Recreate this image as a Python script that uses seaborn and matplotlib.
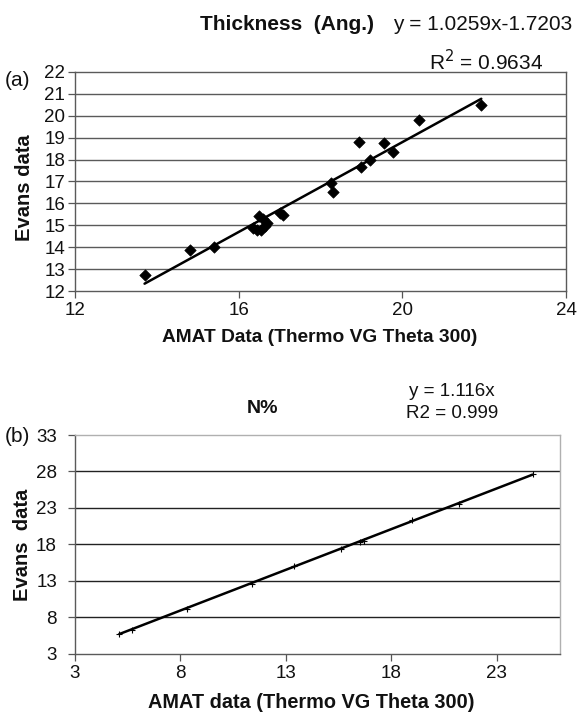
import matplotlib
matplotlib.use("Agg")
import matplotlib.pyplot as plt
import seaborn as sns
import numpy as np
import pandas as pd

# ---- data ----
thick_amat = [13.7, 14.8, 15.4, 16.35, 16.45, 16.5, 16.55, 16.6, 16.65, 16.7,
              17.0, 17.08, 18.26, 18.3, 18.95, 18.98, 19.22, 19.56, 19.76, 20.41, 21.93]
thick_evans = [12.75, 13.87, 14.02, 14.86, 14.8, 15.42, 14.79, 15.3, 14.95, 15.1,
               15.55, 15.45, 16.95, 16.5, 18.8, 17.68, 17.98, 18.74, 18.33, 19.8, 20.49]
thick_fit = [1.0259, -1.7203]   # slope, intercept

n_amat = [5.1, 5.7, 8.3, 11.4, 13.4, 15.6, 16.5, 16.7, 19.0, 21.2, 24.7]
n_evans = [5.7, 6.3, 9.2, 12.6, 15.0, 17.4, 18.3, 18.5, 21.3, 23.6, 27.6]
n_fit = [1.116, 0.0]

thick_xticks = [12, 16, 20, 24]
thick_yticks = list(range(12, 23))
n_xticks = [3, 8, 13, 18, 23]
n_yticks = [3, 8, 13, 18, 23, 28, 33]

sns.set_theme(style="white")
plt.rcParams['font.family'] = ['Liberation Sans', 'DejaVu Sans']

fig = plt.figure(figsize=(5.79, 7.22), dpi=100)
TXT = '#111111'

def style_axes(ax, xticks, yticks, xlim, ylim, grid_color, ypad):
    ax.set_xlim(*xlim)
    ax.set_ylim(*ylim)
    ax.set_xticks(xticks)
    ax.set_yticks(yticks)
    ax.grid(False)
    for y in yticks[1:-1]:
        ax.axhline(y, color=grid_color, lw=1.0, zorder=0)
    ax.tick_params(axis='both', direction='out', length=5, width=0.9,
                   color='#555555', labelsize=13.5, labelcolor=TXT,
                   bottom=True, left=True)
    ax.tick_params(axis='x', pad=3)
    ax.tick_params(axis='y', pad=ypad)
    ax.set_xlabel('')
    ax.set_ylabel('')

# ---- panel (a) ----
ax1 = fig.add_axes([75/579, 1-291/722, (566-75)/579, (291-72)/722])
df1 = pd.DataFrame({'amat': thick_amat, 'evans': thick_evans})
xs1 = np.array([min(thick_amat), max(thick_amat)])
line1 = pd.DataFrame({'x': xs1, 'y': thick_fit[0]*xs1 + thick_fit[1]})
sns.lineplot(data=line1, x='x', y='y', ax=ax1, color='black', lw=1.8, zorder=3)
sns.scatterplot(data=df1, x='amat', y='evans', ax=ax1, marker='D', s=34,
                color='black', edgecolor='black', zorder=4)
style_axes(ax1, thick_xticks, thick_yticks, (12, 24), (12, 22), '#5a5a5a', 2)
for s in ax1.spines.values():
    s.set_color('#5a5a5a'); s.set_linewidth(1.0)

fig.text(287/579, 1-25/722, 'Thickness  (Ang.)', ha='center', va='center',
         fontsize=15, fontweight='bold', color=TXT)
fig.text(483/579, 1-25/722, 'y = 1.0259x-1.7203', ha='center', va='center',
         fontsize=15, color=TXT)
fig.text(486/579, 1-62/722, 'R$^2$ = 0.9634', ha='center', va='center',
         fontsize=15, color=TXT)
fig.text(5/579, 1-80/722, '(a)', ha='left', va='center', fontsize=15, color=TXT)
fig.text(25/579, 1-188/722, 'Evans data', ha='center', va='center', rotation=90,
         fontsize=14.5, fontweight='bold', color=TXT)
fig.text(320/579, 1-337/722, 'AMAT Data (Thermo VG Theta 300)', ha='center', va='center',
         fontsize=13.8, fontweight='bold', color=TXT)

# ---- panel (b) ----
ax2 = fig.add_axes([75/579, 1-653.7/722, (560-75)/579, (653.7-435)/722])
df2 = pd.DataFrame({'amat': n_amat, 'evans': n_evans})
xs2 = np.array([min(n_amat), max(n_amat)])
line2 = pd.DataFrame({'x': xs2, 'y': n_fit[0]*xs2 + n_fit[1]})
sns.lineplot(data=line2, x='x', y='y', ax=ax2, color='black', lw=1.8, zorder=3)
sns.scatterplot(data=df2, x='amat', y='evans', ax=ax2, marker='+', s=14,
                color='black', linewidth=0.8, zorder=4)
style_axes(ax2, n_xticks, n_yticks, (3, 26), (3, 33), '#222222', 8)
for name, s in ax2.spines.items():
    if name in ('top', 'right'):
        s.set_color('#b0b0b0')
    else:
        s.set_color('#5a5a5a')
    s.set_linewidth(1.0)

fig.text(262/579, 1-408/722, 'N%', ha='center', va='center',
         fontsize=14, fontweight='bold', color=TXT)
fig.text(452/579, 1-391/722, 'y = 1.116x', ha='center', va='center',
         fontsize=13.5, color=TXT)
fig.text(452/579, 1-413/722, 'R2 = 0.999', ha='center', va='center',
         fontsize=13.5, color=TXT)
fig.text(5/579, 1-437/722, '(b)', ha='left', va='center', fontsize=15, color=TXT)
fig.text(23/579, 1-545/722, 'Evans  data', ha='center', va='center', rotation=90,
         fontsize=14.5, fontweight='bold', color=TXT)
fig.text(311/579, 1-702/722, 'AMAT data (Thermo VG Theta 300)', ha='center', va='center',
         fontsize=14.3, fontweight='bold', color=TXT)

fig.savefig('out.png', dpi=100, facecolor='white')
